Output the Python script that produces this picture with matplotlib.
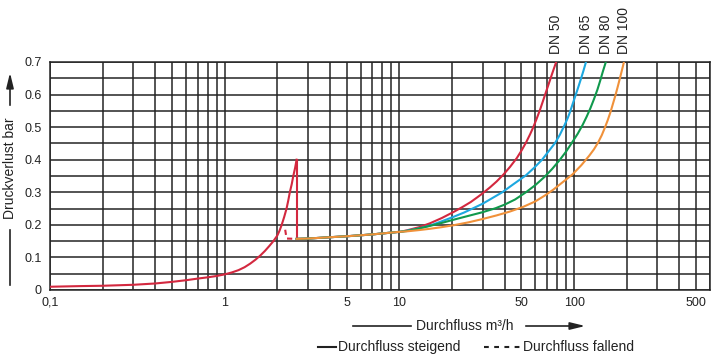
import matplotlib.pyplot as plt
from matplotlib.ticker import LogLocator, MultipleLocator, FixedLocator, FixedFormatter, NullFormatter

plt.rcParams['font.family'] = ['Liberation Sans', 'DejaVu Sans']

# shared rising branch (DN 50 start, flow rising)
x_rise = [0.1, 0.15, 0.2, 0.3, 0.4, 0.5, 0.6, 0.7, 0.8, 0.9, 1.0, 1.1, 1.2, 1.3, 1.4, 1.5,
          1.6, 1.7, 1.8, 1.9, 2.0, 2.06, 2.12, 2.19, 2.26, 2.31, 2.36, 2.42, 2.47, 2.53, 2.58]
y_rise = [0.010, 0.012, 0.013, 0.016, 0.020, 0.025, 0.030, 0.035, 0.039, 0.043, 0.048, 0.054,
          0.061, 0.070, 0.081, 0.093, 0.106, 0.120, 0.135, 0.150, 0.167, 0.182, 0.200, 0.224,
          0.250, 0.274, 0.300, 0.325, 0.350, 0.375, 0.40]

# common flat part after the jump
x_base = [2.58, 3.0, 4.0, 5.0, 6.0, 7.1, 8.5, 10.2]
y_base = [0.157, 0.158, 0.162, 0.165, 0.168, 0.171, 0.175, 0.179]

# dashed return branch (flow falling)
x_fall = [2.22, 2.26, 2.58]
y_fall = [0.185, 0.158, 0.157]

# curves per nominal size
dn_labels = ['DN 50', 'DN 65', 'DN 80', 'DN 100']
dn_colors = ['#d3283f', '#1ca8e0', '#10994c', '#f0913a']
dn_x = [
    [11, 13, 15, 17.5, 20.5, 23, 25.6, 28, 30, 33, 36, 39.5, 43, 47, 50, 53, 56, 58, 61, 64,
     68, 71, 75, 79],
    [11, 13, 15, 17.5, 20.5, 23.5, 26.7, 30, 34, 38.8, 45, 53, 59, 65.6, 72, 78, 83, 88, 92,
     95, 98, 101, 105, 109, 113, 117],
    [11, 13, 15, 17.5, 20.5, 25, 30, 35.5, 40, 46, 53, 60, 68, 75, 83, 90, 98, 105, 112, 118,
     124, 130, 136, 141, 146, 152],
    [11, 13, 15, 17.5, 20.5, 25, 30, 36, 43, 51, 60, 68, 76, 87, 98, 110, 122, 130, 137, 144,
     150, 156, 162, 167, 173, 178, 183, 188, 193],
]
dn_y = [
    [0.183, 0.193, 0.205, 0.221, 0.240, 0.255, 0.270, 0.285, 0.297, 0.315, 0.333, 0.355, 0.378,
     0.405, 0.428, 0.452, 0.478, 0.496, 0.525, 0.555, 0.597, 0.627, 0.665, 0.700],
    [0.182, 0.189, 0.198, 0.211, 0.225, 0.238, 0.252, 0.265, 0.282, 0.300, 0.325, 0.352, 0.375,
     0.400, 0.428, 0.452, 0.477, 0.505, 0.528, 0.548, 0.570, 0.591, 0.618, 0.645, 0.672, 0.700],
    [0.181, 0.189, 0.197, 0.206, 0.216, 0.228, 0.239, 0.251, 0.262, 0.278, 0.300, 0.322, 0.348,
     0.372, 0.400, 0.425, 0.455, 0.480, 0.507, 0.532, 0.558, 0.586, 0.615, 0.642, 0.670, 0.700],
    [0.180, 0.184, 0.188, 0.193, 0.199, 0.208, 0.218, 0.229, 0.241, 0.255, 0.272, 0.290, 0.308,
     0.333, 0.355, 0.383, 0.412, 0.432, 0.452, 0.475, 0.498, 0.522, 0.548, 0.572, 0.600, 0.625,
     0.650, 0.675, 0.700],
]

x_ticks = [0.1, 1, 5, 10, 50, 100, 500]
x_ticklabels = ['0,1', '1', '5', '10', '50', '100', '500']
y_ticks = [0, 0.1, 0.2, 0.3, 0.4, 0.5, 0.6, 0.7]
y_ticklabels = ['0', '0.1', '0.2', '0.3', '0.4', '0.5', '0.6', '0.7']

W, H = 720, 359
fig = plt.figure(figsize=(W / 100, H / 100), dpi=100)
ax = fig.add_axes([50 / W, 1 - 290 / H, 660 / W, 228 / H])


def px(x, y):
    return (x / W, 1 - y / H)


grid_c = '#242424'
ax.set_xscale('log')
ax.set_xlim(0.1, 600)
ax.set_ylim(0, 0.7)
ax.xaxis.set_major_locator(FixedLocator(x_ticks))
ax.xaxis.set_major_formatter(FixedFormatter(x_ticklabels))
ax.xaxis.set_minor_locator(LogLocator(base=10, subs=range(1, 10), numticks=20))
ax.xaxis.set_minor_formatter(NullFormatter())
ax.yaxis.set_major_locator(FixedLocator(y_ticks))
ax.yaxis.set_major_formatter(FixedFormatter(y_ticklabels))
ax.yaxis.set_minor_locator(MultipleLocator(0.05))
ax.grid(True, which='both', color=grid_c, lw=1.1)
ax.set_axisbelow(True)
ax.tick_params(which='both', length=0, labelsize=9, colors='#222222')
ax.tick_params(axis='x', pad=5)
ax.tick_params(axis='y', pad=6)
for s in ax.spines.values():
    s.set_color(grid_c)
    s.set_linewidth(1.1)

lw = 1.5
ax.plot(x_rise, y_rise, color=dn_colors[0], lw=lw, zorder=3)
ax.plot([x_rise[-1], x_rise[-1]], [y_rise[-1], y_base[0]], color=dn_colors[0], lw=lw, zorder=3)
ax.plot(x_fall, y_fall, color=dn_colors[0], lw=lw, ls=(0, (2.5, 2)), zorder=3)

for lab, c, xs, ys in zip(dn_labels, dn_colors, dn_x, dn_y):
    ax.plot(x_base + xs, y_base + ys, color=c, lw=lw, zorder=3)
    ax.text(xs[-1], 1.035, lab, transform=ax.get_xaxis_transform(), rotation=90,
            ha='center', va='bottom', fontsize=10, color='#222222')

# y axis label with arrow
fig.text(*px(10, 168), 'Druckverlust bar', rotation=90, ha='center', va='center', fontsize=10, color='#222222')
fig.add_artist(plt.Line2D(*zip(px(10, 285), px(10, 230)), color='#222222', lw=1.2))
ax.annotate('', xy=px(10, 70), xytext=px(10, 108), xycoords='figure fraction', textcoords='figure fraction',
            arrowprops=dict(arrowstyle='-|>,head_length=0.9,head_width=0.22', color='#222222', lw=1.2))

# x axis label with arrow
fig.text(*px(465, 326), 'Durchfluss m³/h', ha='center', va='center', fontsize=10, color='#222222')
fig.add_artist(plt.Line2D(*zip(px(353, 326), px(411, 326)), color='#222222', lw=1.2))
ax.annotate('', xy=px(588, 326), xytext=px(523, 326), xycoords='figure fraction', textcoords='figure fraction',
            arrowprops=dict(arrowstyle='-|>,head_length=0.9,head_width=0.22', color='#222222', lw=1.2))

# legend
fig.add_artist(plt.Line2D(*zip(px(318, 347), px(336, 347)), color='#222222', lw=1.5))
fig.text(*px(338, 347), 'Durchfluss steigend', ha='left', va='center', fontsize=10, color='#222222')
fig.add_artist(plt.Line2D(*zip(px(484, 347), px(520, 347)), color='#222222', lw=1.5, ls=(0, (2.3, 2.6))))
fig.text(*px(523, 347), 'Durchfluss fallend', ha='left', va='center', fontsize=10, color='#222222')

fig.savefig('out.png', dpi=100)
